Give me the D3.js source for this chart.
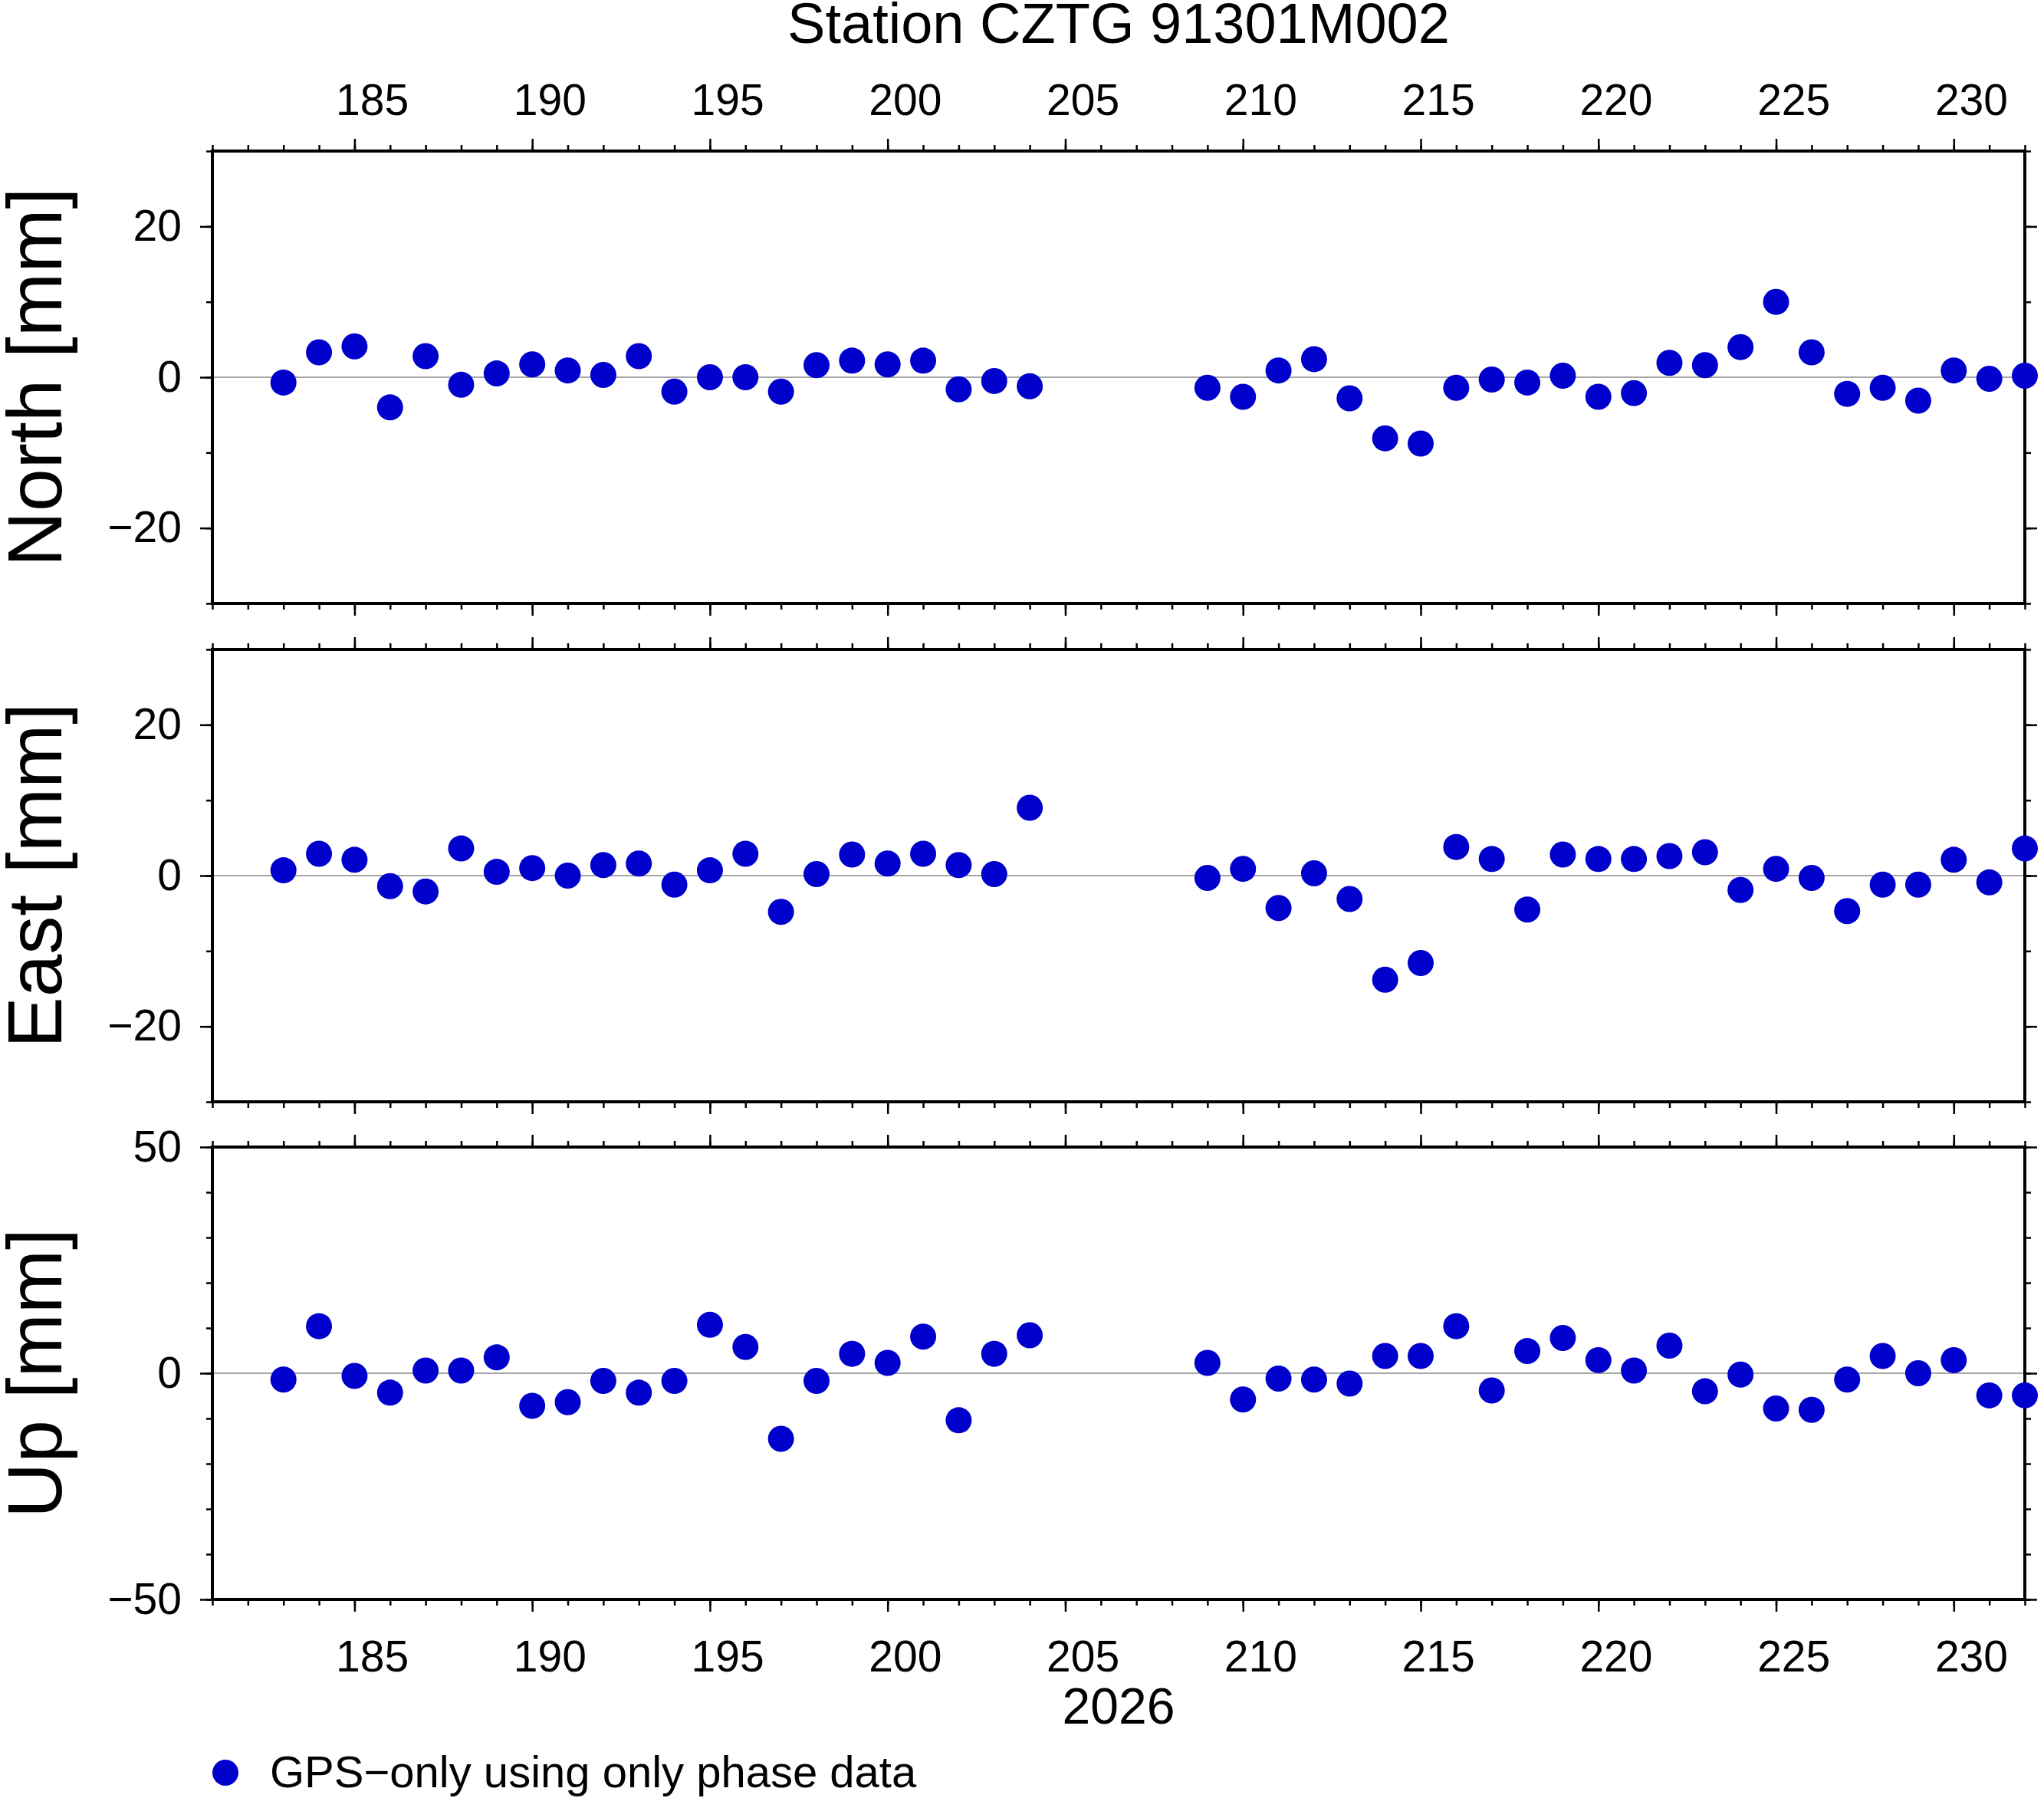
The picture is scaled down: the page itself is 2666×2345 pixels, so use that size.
<!DOCTYPE html>
<html><head><meta charset="utf-8">
<script src="https://cdn.jsdelivr.net/npm/d3@7"></script>
<style>body{margin:0;background:#fff}svg text{font-family:"Liberation Sans",Arial,sans-serif}</style>
</head><body><div id="grafico"></div>
<script>
// --- data ---
const days = [183,184,185,186,187,188,189,190,191,192,193,194,195,196,197,198,199,200,201,202,203,204,
  209,210,211,212,213,214,215,216,217,218,219,220,221,222,223,224,225,226,227,228,229,230,231,232];
const north = [-0.7,3.3,4.1,-4.0,2.8,-1.0,0.5,1.7,0.9,0.3,2.8,-1.9,0,0,-1.9,1.6,2.2,1.7,2.2,-1.6,-0.5,-1.2,
  -1.4,-2.6,0.9,2.4,-2.8,-8.1,-8.8,-1.4,-0.3,-0.7,0.2,-2.6,-2.1,1.9,1.6,4.0,10.0,3.3,-2.2,-1.4,-3.1,0.9,-0.2,0.2];
const east = [0.7,2.9,2.1,-1.4,-2.1,3.6,0.5,1.0,0,1.4,1.6,-1.2,0.7,2.9,-4.8,0.2,2.8,1.6,2.9,1.4,0.2,9.0,
  -0.3,0.9,-4.3,0.3,-3.1,-13.8,-11.6,3.8,2.2,-4.5,2.8,2.2,2.2,2.6,3.1,-1.9,0.9,-0.3,-4.7,-1.2,-1.2,2.1,-0.9,3.6];
const up = [-1.4,10.4,-0.6,-4.3,0.6,0.6,3.5,-7.2,-6.4,-1.7,-4.3,-1.7,10.7,5.8,-14.5,-1.7,4.3,2.3,8.1,-10.4,4.3,8.4,
  2.3,-5.8,-1.2,-1.4,-2.3,3.8,3.8,10.4,-3.8,4.9,7.8,2.9,0.6,6.1,-4.0,-0.3,-7.8,-8.1,-1.4,3.8,0,2.9,-4.9,-4.9];
const panels = [
  {label:"North [mm]", values:north, domain:[-30,30], major:[-20,0,20], minor:d3.range(-30,31,10)},
  {label:"East [mm]", values:east, domain:[-30,30], major:[-20,0,20], minor:d3.range(-30,31,10)},
  {label:"Up [mm]", values:up, domain:[-50,50], major:[-50,0,50], minor:d3.range(-50,51,10)}
];
const title = "Station CZTG 91301M002";
const yearLabel = "2026";
const legendText = "GPS\u2212only using only phase data";

// --- layout ---
const W = 2666, H = 2345;
const left = 277, right = 2641;
const tops = [197, 847, 1496], ph = 590;
const blue = "#0000cd";
const fs = 57;

const svg = d3.select("#grafico").append("svg").attr("width", W).attr("height", H);
const x = d3.scaleLinear().domain([181, 232]).range([left, right]);
const majorX = d3.range(185, 231, 5), minorX = d3.range(181, 233, 1);
const fmt = d => String(d).replace("-", "\u2212");

panels.forEach((p, i) => {
  const top = tops[i];
  const y = d3.scaleLinear().domain(p.domain).range([top + ph, top]);
  const g = svg.append("g");

  g.append("line").attr("x1", left).attr("x2", right).attr("y1", y(0)).attr("y2", y(0))
    .attr("stroke", "#888").attr("stroke-width", 1.5);

  [[top, d3.axisTop], [top + ph, d3.axisBottom]].forEach(([yy, ax]) => {
    g.append("g").attr("transform", `translate(0,${yy})`)
      .call(ax(x).tickValues(minorX).tickSize(8).tickFormat(""))
      .call(a => a.select(".domain").remove())
      .call(a => a.selectAll("line").attr("stroke-width", 2.5));
    g.append("g").attr("transform", `translate(0,${yy})`)
      .call(ax(x).tickValues(majorX).tickSize(16).tickFormat(""))
      .call(a => a.select(".domain").remove())
      .call(a => a.selectAll("line").attr("stroke-width", 2.5));
  });

  // day labels centred on the middle of the day
  if (i === 0 || i === 2) {
    g.selectAll("text.day").data(majorX).join("text").attr("class", "day")
      .attr("x", d => x(d + 0.5)).attr("y", i === 0 ? 150 : 2180)
      .attr("text-anchor", "middle").attr("font-size", fs).text(d => d);
  }

  [[left, d3.axisLeft, true], [right, d3.axisRight, false]].forEach(([xx, ax, lab]) => {
    g.append("g").attr("transform", `translate(${xx},0)`)
      .call(ax(y).tickValues(p.minor).tickSize(8).tickFormat(""))
      .call(a => a.select(".domain").remove())
      .call(a => a.selectAll("line").attr("stroke-width", 2.5));
    g.append("g").attr("transform", `translate(${xx},0)`)
      .call(ax(y).tickValues(p.major).tickSize(16).tickPadding(24).tickFormat(lab ? fmt : ""))
      .call(a => a.select(".domain").remove())
      .call(a => a.selectAll("line").attr("stroke-width", 2.5))
      .call(a => a.selectAll("text").attr("font-size", fs).attr("fill", "#000"));
  });

  g.append("rect").attr("x", left).attr("y", top).attr("width", right - left).attr("height", ph)
    .attr("fill", "none").attr("stroke", "#000").attr("stroke-width", 4);

  g.selectAll("circle").data(days).join("circle")
    .attr("cx", d => x(d)).attr("cy", (d, k) => y(p.values[k])).attr("r", 17).attr("fill", blue);

  g.append("text").attr("transform", `translate(80,${top + ph / 2}) rotate(-90)`)
    .attr("text-anchor", "middle").attr("font-size", 100).text(p.label);
});

svg.append("text").attr("x", (left + right) / 2).attr("y", 56).attr("text-anchor", "middle")
  .attr("font-size", 74).text(title);
svg.append("text").attr("x", (left + right) / 2).attr("y", 2248).attr("text-anchor", "middle")
  .attr("font-size", 66).text(yearLabel);
svg.append("circle").attr("cx", 294).attr("cy", 2312).attr("r", 17).attr("fill", blue);
svg.append("text").attr("x", 352).attr("y", 2331).attr("font-size", 58).text(legendText);
</script></body></html>
